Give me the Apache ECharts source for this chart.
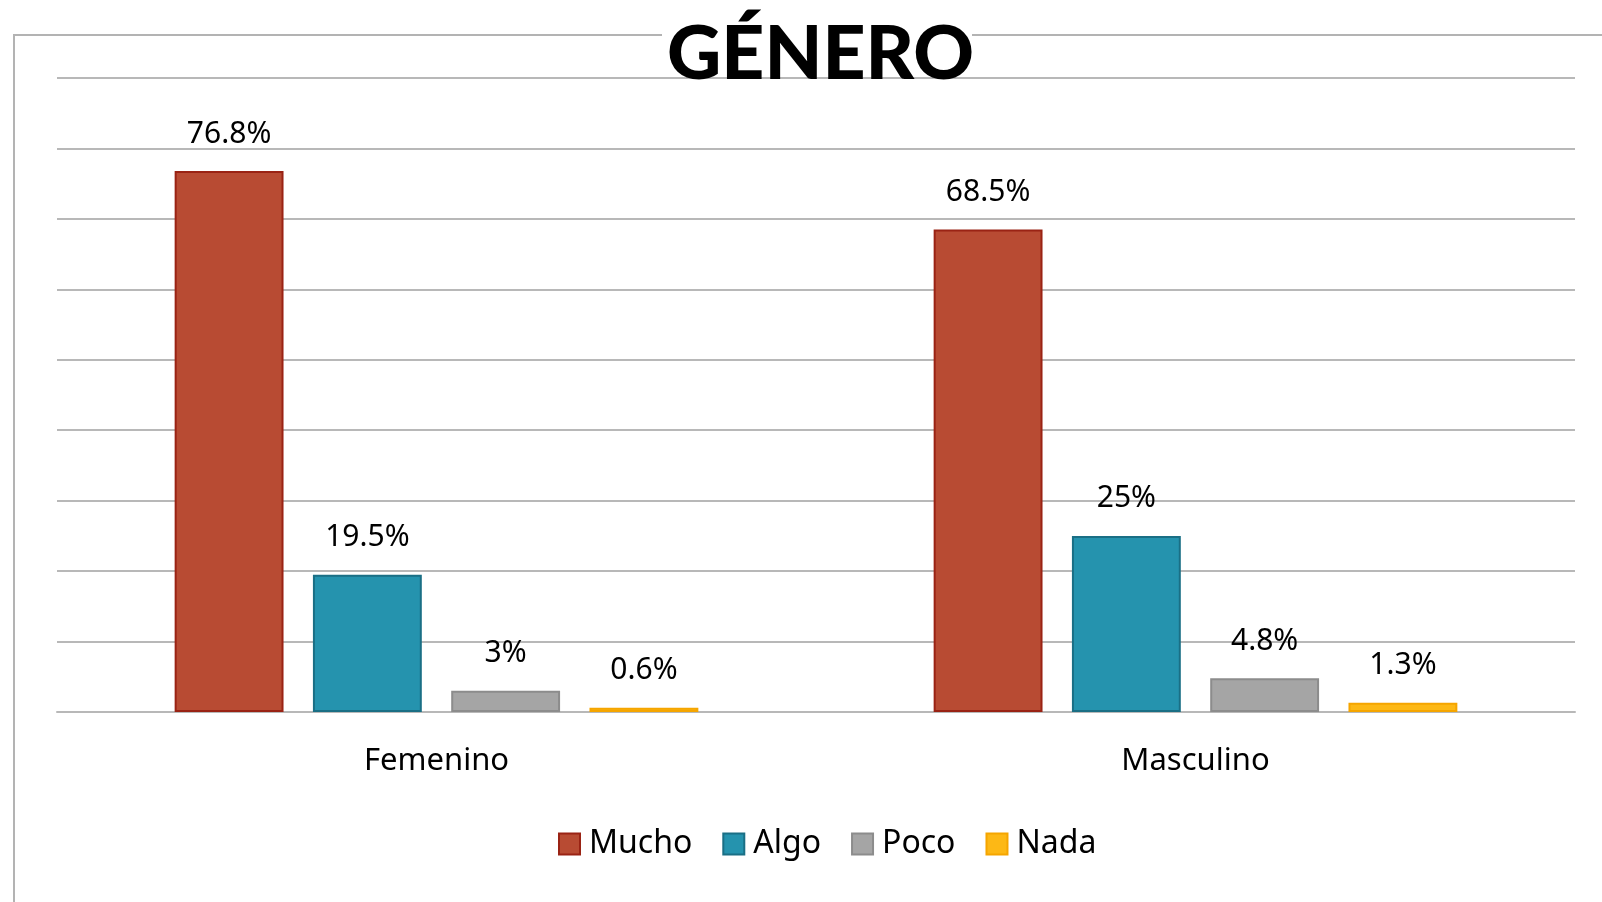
<!DOCTYPE html>
<html>
<head>
<meta charset="utf-8">
<script src="https://cdn.jsdelivr.net/npm/echarts@6/dist/echarts.min.js"></script>
<style>
  html, body { margin: 0; padding: 0; background: #fff; }
  #main { width: 1602px; height: 902px; }
</style>
</head>
<body>
<div id="main"></div>
<script>
var categories = ['Femenino', 'Masculino'];
var seriesNames = ['Mucho', 'Algo', 'Poco', 'Nada'];
var mucho = [76.8, 68.5];
var algo = [19.5, 25];
var poco = [3, 4.8];
var nada = [0.6, 1.3];

var colors = ['#b84b33', '#2593ae', '#a5a5a5', '#fdb815'];
var borders = ['#9a2314', '#1a6f85', '#8c8c8c', '#f5a500'];

var myChart = echarts.init(document.getElementById('main'));

function makeSeries(name, data, i) {
  return {
    name: name,
    type: 'bar',
    data: data,
    barGap: '27%',
    barCategoryGap: '31%',
    itemStyle: { color: colors[i], borderColor: borders[i], borderWidth: 2 },
    label: {
      show: true,
      position: 'top',
      distance: 22,
      fontFamily: 'Noto Sans',
      fontSize: 30,
      color: '#000',
      formatter: function (p) { return p.value + '%'; }
    }
  };
}

var option = {
  backgroundColor: '#fff',
  graphic: [{
    type: 'rect',
    z: 0,
    shape: { x: 14, y: 35, width: 1700, height: 1000 },
    style: { fill: 'none', stroke: '#b3b3b3', lineWidth: 2 }
  }, {
    // gap in the frame behind the title
    type: 'rect',
    z: 1,
    shape: { x: 662, y: 30, width: 310, height: 10 },
    style: { fill: '#fff' }
  }],
  title: {
    text: 'GÉNERO',
    left: 667,
    top: 27,
    padding: 0,
    textStyle: {
      fontFamily: 'Lato',
      fontWeight: 900,
      fontSize: 75,
      lineHeight: 56,
      color: '#000'
    }
  },
  legend: {
    data: seriesNames,
    bottom: 37,
    left: 553,
    icon: 'rect',
    itemWidth: 21,
    itemHeight: 21,
    itemGap: 30,
    textStyle: { fontFamily: 'Noto Sans', fontSize: 32, color: '#000', padding: [0, 0, 0, 4] }
  },
  grid: { left: 57, right: 27, top: 78, bottom: 190 },
  xAxis: {
    type: 'category',
    data: categories,
    axisTick: { show: false },
    axisLine: { lineStyle: { color: '#b8b8b8', width: 2 } },
    axisLabel: { margin: 34, fontFamily: 'Noto Sans', fontSize: 31, color: '#000' }
  },
  yAxis: {
    type: 'value',
    min: 0,
    max: 90,
    interval: 10,
    axisLabel: { show: false },
    axisLine: { show: false },
    axisTick: { show: false },
    splitLine: { lineStyle: { color: '#b8b8b8', width: 2 } }
  },
  series: [
    makeSeries('Mucho', mucho, 0),
    makeSeries('Algo', algo, 1),
    makeSeries('Poco', poco, 2),
    makeSeries('Nada', nada, 3)
  ]
};
myChart.setOption(option);
</script>
</body>
</html>
